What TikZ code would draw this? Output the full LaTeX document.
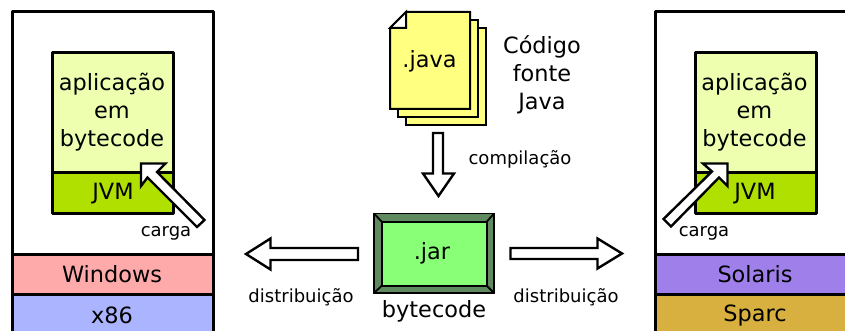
\documentclass[tikz,border=0pt]{standalone}
\usepackage{fontspec}
\setmainfont{DejaVu Sans}
\definecolor{appc}{HTML}{EEFFB0}
\definecolor{jvmc}{HTML}{B0E000}
\definecolor{winc}{HTML}{FFAAAA}
\definecolor{x86c}{HTML}{AAB4FF}
\definecolor{solc}{HTML}{9F7FEA}
\definecolor{sparcc}{HTML}{D8B040}
\definecolor{javac}{HTML}{FFFF80}
\definecolor{jarc}{HTML}{88FF77}
\definecolor{framec}{HTML}{5F8A5F}
\tikzset{
  big/.style={font=\fontsize{22.4}{28}\selectfont,align=center,inner sep=0pt,text=black},
  small/.style={font=\fontsize{18}{22}\selectfont,align=center,inner sep=0pt,text=black},
  heavy/.style={draw=black,line width=3pt,line join=round},
  blockarrow/.style={draw=black,fill=white,line width=2.4pt,line join=miter},
  doc/.style={draw=black,fill=javac,line width=2pt,line join=miter},
  bevel/.style={draw=black,fill=framec,line width=1.8pt,line join=miter}
}
\begin{document}
\begin{tikzpicture}[x=1pt,y=-1pt]
\useasboundingbox (0,0) rectangle (845,331);
\clip (0,0) rectangle (845,331);
% left machine
\draw[heavy,fill=white] (12,12) rectangle (213,254);
\draw[heavy,fill=winc] (12,254) rectangle (213,294);
\draw[heavy,fill=x86c] (12,294) rectangle (213,345);
\draw[heavy,fill=appc] (52,53) rectangle (173,173);
\draw[heavy,fill=jvmc] (52,173) rectangle (173,213);
\node[big] (appL) at (112,112) {aplicação\\em\\bytecode};
\node[big] (jvmL) at (113,194) {JVM};
\node[big] (winL) at (112,274.5) {Windows};
\node[big] (x86L) at (112,315) {x86};
\draw[blockarrow] (141,163.5) -- (165.5,163.5) -- (157,172) -- (204.5,220) -- (197,227) -- (147.5,177.5) -- (141,186) -- cycle;
\node[small] (cargaL) at (166,233) {carga};
% right machine
\draw[heavy,fill=white] (655,12) rectangle (860,254);
\draw[heavy,fill=solc] (655,254) rectangle (860,294);
\draw[heavy,fill=sparcc] (655,294) rectangle (860,345);
\draw[heavy,fill=appc] (695,53) rectangle (816,173);
\draw[heavy,fill=jvmc] (695,173) rectangle (816,213);
\node[big] (appR) at (754.5,112) {aplicação\\em\\bytecode};
\node[big] (jvmR) at (755,194) {JVM};
\node[big] (solR) at (755,274.5) {Solaris};
\node[big] (sparcR) at (755,315.5) {Sparc};
\draw[blockarrow] (727.5,163.5) -- (703,163.5) -- (712,171.5) -- (663.5,219) -- (671,226.5) -- (719,177.5) -- (727.5,186) -- cycle;
\node[small] (cargaR) at (704,233) {carga};
% java files
\draw[doc] (406,28) rectangle (486,125);
\draw[doc] (398,20.5) rectangle (478,117);
\draw[doc] (406,12) -- (470,12) -- (470,109) -- (390,109) -- (390,28) -- cycle;
\draw[draw=black,fill=white,line width=2pt,line join=miter] (406,12) -- (406,28) -- (390,28) -- cycle;
\node[big] (java) at (429.5,61) {.java};
\node[big] (codigo) at (542,75) {Código\\fonte\\Java};
% compile arrow
\draw[blockarrow] (433,133) -- (443,133) -- (443,173.5) -- (454,173.5) -- (438.5,196) -- (423,173.5) -- (433,173.5) -- cycle;
\node[small] (compilacao) at (520,159) {compilação};
% jar
\draw[bevel] (374,213.5) rectangle (494,293);
\draw[draw=black,line width=1.8pt] (374,213.5) -- (382,222) (494,213.5) -- (486.5,222) (374,293) -- (382,285.5) (494,293) -- (486.5,285.5);
\draw[draw=black,fill=jarc,line width=2pt] (382,222) rectangle (486.5,285.5);
\node[big] (jar) at (432,253) {.jar};
\node[big] (bytecode) at (434,311) {bytecode};
% distribution arrows
\draw[blockarrow] (358,248) -- (270.5,248) -- (270.5,238.5) -- (246,254) -- (270.5,269.5) -- (270.5,260) -- (358,260) -- cycle;
\draw[blockarrow] (510.5,248) -- (597.5,248) -- (597.5,238.5) -- (622,253.5) -- (597.5,268.5) -- (597.5,259) -- (510.5,259) -- cycle;
\node[small] (distL) at (301,297) {distribuição};
\node[small] (distR) at (566,297) {distribuição};
\end{tikzpicture}
\end{document}
